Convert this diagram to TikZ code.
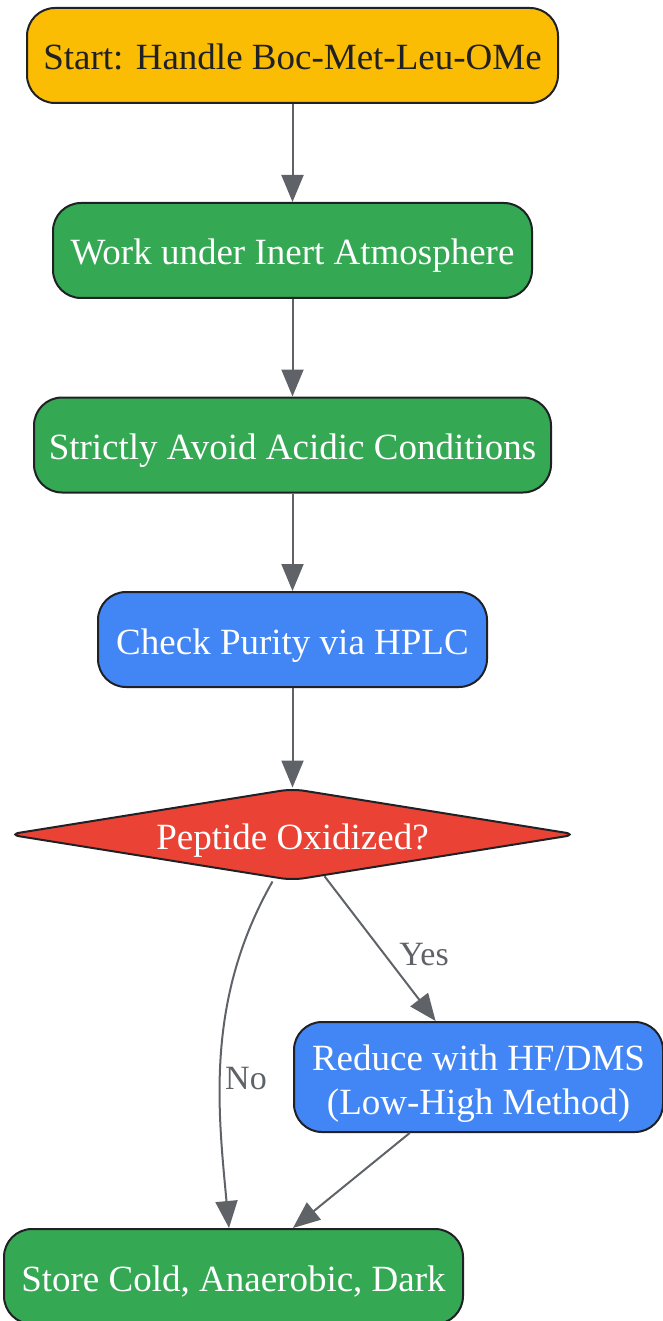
\documentclass[tikz,border=0pt]{standalone}
\usepackage{fontspec}
\setmainfont{Liberation Serif}
\usetikzlibrary{shapes.geometric,arrows.meta}
\definecolor{cyellow}{HTML}{FBBC04}
\definecolor{cgreen}{HTML}{34A853}
\definecolor{cblue}{HTML}{4285F4}
\definecolor{cred}{HTML}{EA4335}
\definecolor{cdark}{HTML}{202124}
\definecolor{cedge}{HTML}{5F6368}
\tikzset{
  box/.style={draw=cdark, line width=2pt, rounded corners=28pt, inner sep=0pt,
    minimum height=95pt, text=white, align=center, text height=29pt, text depth=0pt,
    font=\fontsize{37}{44}\selectfont},
  dec/.style={draw=cdark, line width=2pt, diamond, aspect=6, rounded corners=12pt,
    inner sep=0pt, minimum width=569pt, minimum height=92pt, text=white,
    text height=29pt, text depth=0pt,
    font=\fontsize{37}{44}\selectfont},
  conn/.style={draw=cedge, line width=2pt, -{Triangle[length=27pt,width=22pt]}},
  lbl/.style={text=cedge, font=\fontsize{34}{40}\selectfont, inner sep=1pt}
}
\begin{document}
\begin{tikzpicture}[x=1pt,y=-1pt]
\useasboundingbox (0,0) rectangle (663,1321);
\node[box, fill=cyellow, text=cdark, minimum width=531pt] (start) at (292.5,55.5) {Start: Handle Boc-Met-Leu-OMe};
\node[box, fill=cgreen, minimum width=479pt] (inert) at (292.5,250.5) {Work under Inert Atmosphere};
\node[box, fill=cgreen, minimum width=517pt] (acid) at (292.5,445) {Strictly Avoid Acidic Conditions};
\node[box, fill=cblue, minimum width=389pt] (hplc) at (292.5,639.5) {Check Purity via HPLC};
\node[dec, fill=cred] (ox) at (292.5,834.5) {Peptide Oxidized?};
\node[box, fill=cblue, minimum width=369pt, minimum height=110pt, text height=, text depth=] (red) at (478.5,1077) {\rule{0pt}{38pt}Reduce with HF/DMS\\(Low-High Method)};
\node[box, fill=cgreen, minimum width=459pt] (store) at (233.5,1276.5) {Store Cold, Anaerobic, Dark};
\draw[conn] (start) -- (inert);
\draw[conn] (inert) -- (acid);
\draw[conn] (acid) -- (hplc);
\draw[conn] (hplc) -- (ox);
\draw[conn] (ox) -- (red);
\draw[conn] (red) -- (store);
\draw[conn] ([xshift=-20pt]ox.south) .. controls (205,1000) and (218,1110) .. ([xshift=-4.5pt]store.north);
\node[lbl] (yes) at (424,955) {Yes};
\node[lbl] (no) at (246,1079) {No};
\end{tikzpicture}
\end{document}
